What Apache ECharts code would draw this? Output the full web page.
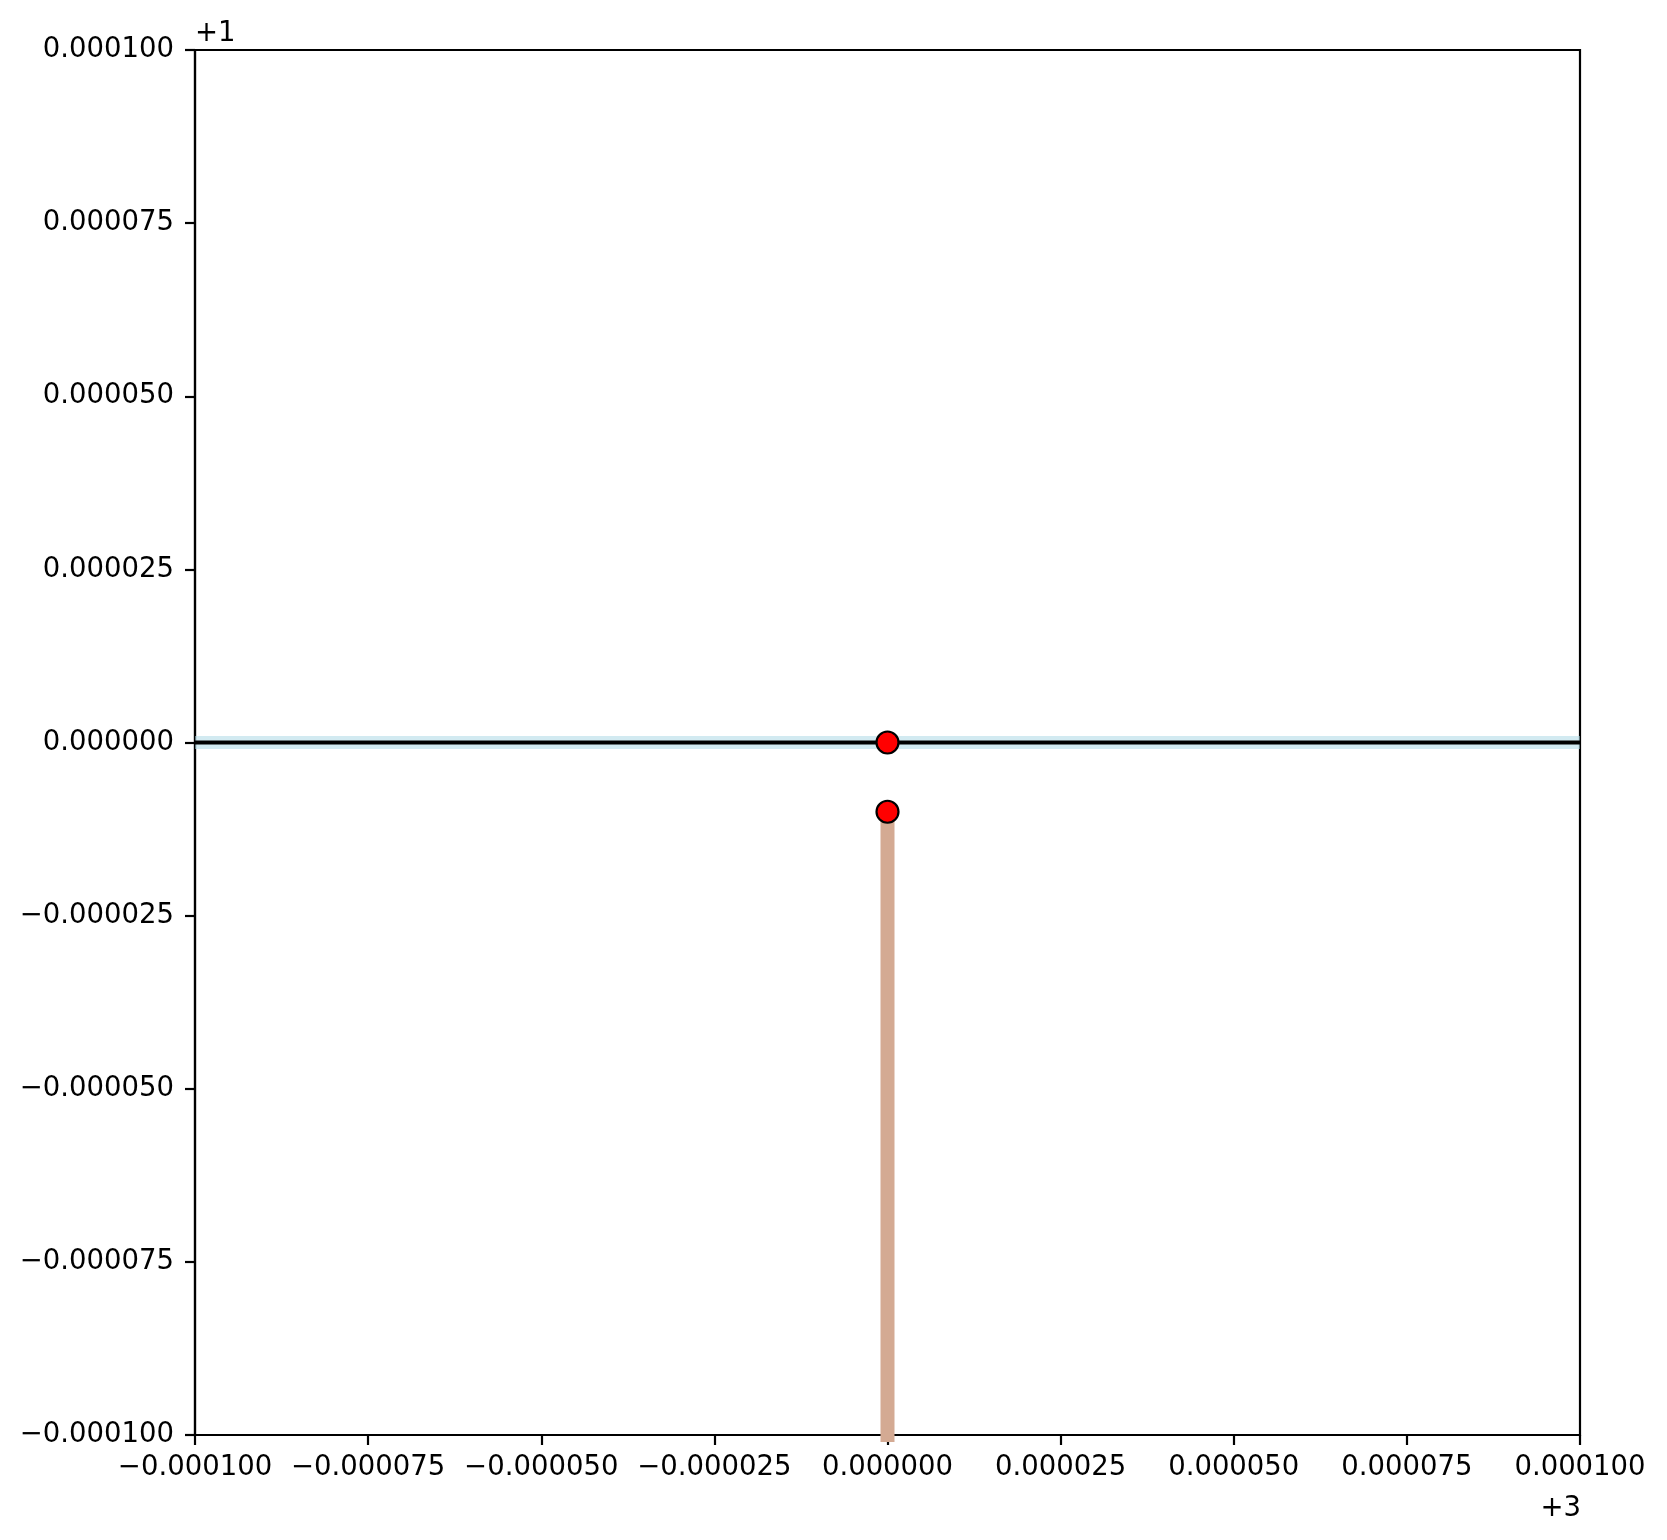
<!DOCTYPE html>
<html>
<head>
<meta charset="utf-8">
<script src="https://cdn.jsdelivr.net/npm/echarts@6/dist/echarts.min.js"></script>
<style>html,body{margin:0;padding:0;background:#fff;}#c{width:1667px;height:1540px;}</style>
</head>
<body>
<div id="c"></div>
<script>
// Axis offsets (matplotlib offset text)
const xOffset = 3;
const yOffset = 1;
const xRange = [-0.0001, 0.0001];
const yRange = [-0.0001, 0.0001];
const tickStep = 0.000025;

// Points (actual values)
const pointsX = [3.0, 3.0];
const pointsY = [1.0, 0.99999];

// Horizontal reference line value
const hLineY = 1.0;

// Vertical stem: from the lower point down to (off-chart) bottom value
const stemX = 3.0;
const stemTop = 0.99999;
const stemBottom = 0.999;

function fmt(v) {
  if (Math.abs(v) < 1e-12) v = 0;
  return v.toFixed(6).replace('-', '\u2212');
}

const font = 'DejaVu Sans';
const fs = 27.5;

const chart = echarts.init(document.getElementById('c'), null, {renderer: 'canvas'});
const option = {
  animation: false,
  backgroundColor: '#fff',
  grid: {left: 195, top: 50, width: 1385, height: 1385, show: true, borderColor: '#000', borderWidth: 2.2, backgroundColor: 'transparent'},
  xAxis: {
    type: 'value', min: xRange[0], max: xRange[1], interval: tickStep,
    axisLine: {show: true, onZero: false, lineStyle: {color: '#000', width: 2.2}},
    axisTick: {show: true, inside: false, length: 10, lineStyle: {color: '#000', width: 2.2}},
    axisLabel: {formatter: fmt, color: '#000', fontFamily: font, fontSize: fs, margin: 19, showMinLabel: true, showMaxLabel: true, hideOverlap: false},
    splitLine: {show: false}
  },
  yAxis: {
    type: 'value', min: yRange[0], max: yRange[1], interval: tickStep,
    axisLine: {show: true, onZero: false, lineStyle: {color: '#000', width: 2.2}},
    axisTick: {show: true, inside: false, length: 10, lineStyle: {color: '#000', width: 2.2}},
    axisLabel: {formatter: fmt, color: '#000', fontFamily: font, fontSize: fs, margin: 21, showMinLabel: true, showMaxLabel: true, hideOverlap: false},
    splitLine: {show: false}
  },
  series: [
    {
      type: 'line', silent: true, showSymbol: false, z: 1,
      data: [[xRange[0], hLineY - yOffset], [xRange[1], hLineY - yOffset]],
      lineStyle: {color: 'rgba(173,216,230,0.55)', width: 13},
      clip: true
    },
    {
      type: 'line', silent: true, showSymbol: false, z: 2,
      data: [[xRange[0], hLineY - yOffset], [xRange[1], hLineY - yOffset]],
      lineStyle: {color: '#000', width: 4},
      clip: true
    },
    {
      type: 'line', silent: true, showSymbol: false, z: 3,
      data: [[stemX - xOffset, stemTop - yOffset], [stemX - xOffset, stemBottom - yOffset]],
      lineStyle: {color: '#d4aa93', width: 14, cap: 'butt'},
      clip: true
    },
    {
      type: 'scatter', silent: true, z: 5,
      data: pointsX.map((x, i) => [x - xOffset, pointsY[i] - yOffset]),
      symbol: 'circle', symbolSize: 22,
      itemStyle: {color: '#ff0000', borderColor: '#000', borderWidth: 2.2, opacity: 1}
    }
  ],
  graphic: [
    {type: 'text', left: 195, top: 20, style: {text: '+' + yOffset, font: fs + 'px "' + font + '"', fill: '#000'}},
    {type: 'text', right: 1667 - 1581, top: 1495, style: {text: '+' + xOffset, font: fs + 'px "' + font + '"', fill: '#000'}}
  ]
};
chart.setOption(option);
</script>
</body>
</html>
